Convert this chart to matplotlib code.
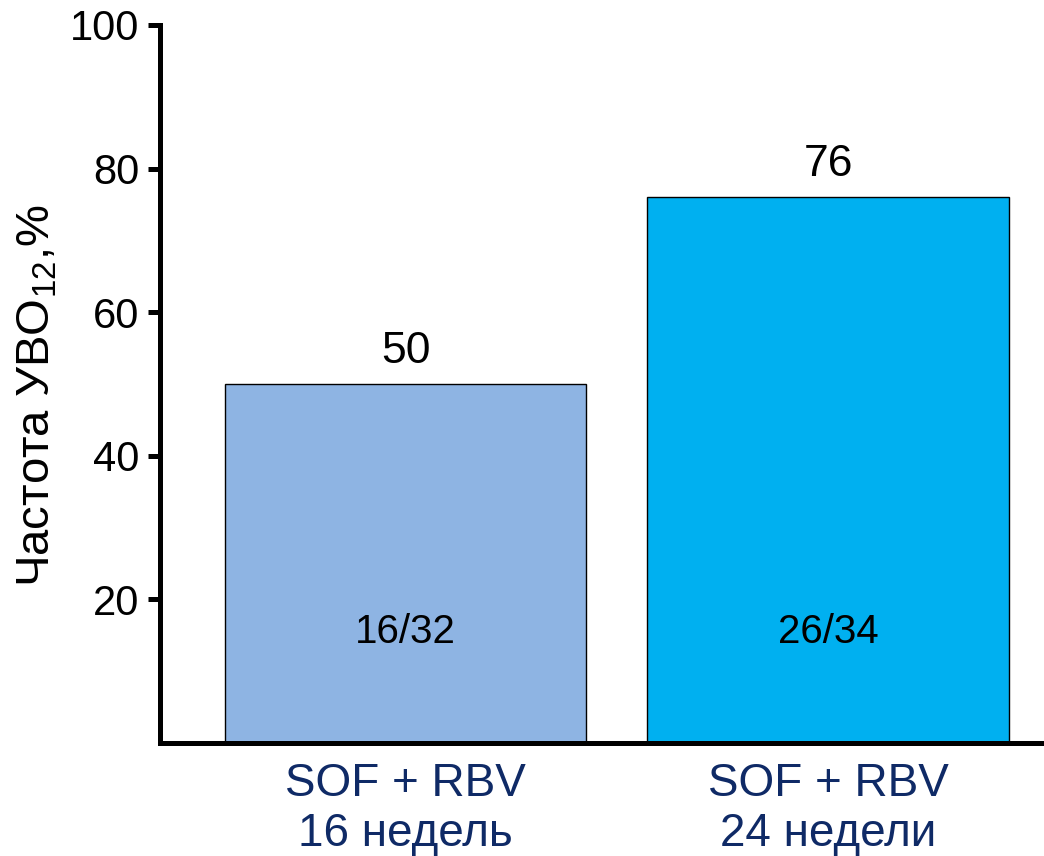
import matplotlib.pyplot as plt

plt.rcParams['font.family'] = ['Liberation Sans', 'DejaVu Sans']
plt.rcParams['mathtext.fontset'] = 'custom'
plt.rcParams['mathtext.rm'] = 'Liberation Sans'
plt.rcParams['mathtext.it'] = 'Liberation Sans'

groups = ['SOF + RBV\n16 недель', 'SOF + RBV\n24 недели']
rates = [50, 76]
counts = ['16/32', '26/34']
colors = ['#8eb4e3', '#00b0f0']
yticks = [20, 40, 60, 80, 100]

fig = plt.figure(figsize=(10.44, 8.56), dpi=100)
ax = fig.add_axes([0.1533, 0.132, 0.8467, 0.8388])

x = range(len(rates))
bars = ax.bar(x, rates, width=0.855, color=colors, edgecolor='black', linewidth=1.0)

for b, v, c in zip(bars, rates, counts):
    cx = b.get_x() + b.get_width() / 2
    ax.annotate(str(v), (cx, v), xytext=(0, 9), textcoords='offset points',
                ha='center', va='bottom', fontsize=32)
    ax.text(cx, 15.5, c, ha='center', va='center', fontsize=29)

ax.set_xlim(-0.581, 1.511)
ax.set_ylim(0, 100)
ax.set_yticks(yticks)
ax.set_yticklabels([str(t) for t in yticks], fontsize=30)
ax.set_xticks(list(x))
ax.set_xticklabels(groups, fontsize=33, color='#0f2a66', linespacing=1.15)

for s in ['top', 'right']:
    ax.spines[s].set_visible(False)
for s in ['left', 'bottom']:
    ax.spines[s].set_linewidth(3.6)
ax.tick_params(axis='y', direction='out', length=9, width=3.6, pad=6)
ax.tick_params(axis='x', length=0, pad=14)

fig.text(38 / 1044, 1 - 396 / 856, 'Частота УВО$_{12}$,%', rotation=90,
         ha='center', va='center', fontsize=34)

fig.savefig('out.png', dpi=100)
